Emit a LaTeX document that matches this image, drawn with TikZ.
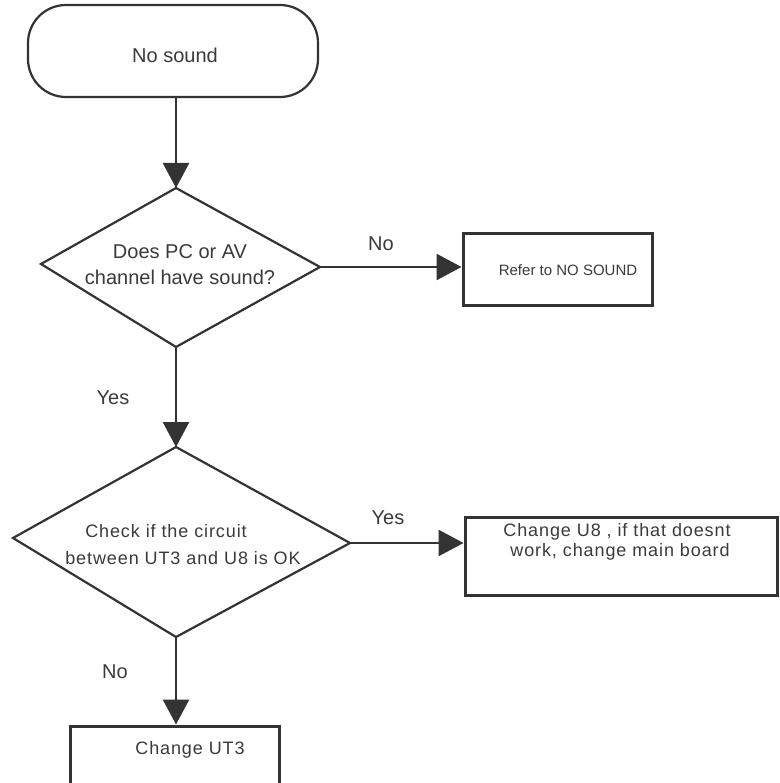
\documentclass[tikz,border=0pt]{standalone}
\usepackage{fontspec}
\setmainfont{Liberation Sans}
\newfontfamily\arialsp[LetterSpace=5]{Liberation Sans}
\usetikzlibrary{arrows.meta}
\definecolor{ink}{HTML}{333333}
\definecolor{txt}{HTML}{3A3A3A}
\tikzset{
  shapeline/.style={draw=ink, line width=2.2pt},
  boxnode/.style={draw=ink, line width=3pt, rectangle, inner sep=0pt},
  conn/.style={draw=ink, line width=2.6pt, -{Triangle[length=25pt,width=26pt]}},
  lbl/.style={text=txt, font=\fontsize{20}{24}\selectfont, inner sep=0pt},
  lbltwo/.style={text=txt, font=\fontsize{18}{22}\selectfont\arialsp, inner sep=0pt},
}
\begin{document}
\begin{tikzpicture}[x=1pt,y=-1pt]
\useasboundingbox (0,0) rectangle (779,783);
\clip (0,0) rectangle (779,783);

% start terminal
\node[shapeline, rounded corners=38pt, minimum width=290pt, minimum height=92pt, inner sep=0pt] (start) at (173,51) {};
\node[lbl] (starttxt) at (175,55) {No sound};

% diamond 1
\coordinate (d1t) at (176,188);
\coordinate (d1l) at (41,264);
\coordinate (d1r) at (320,267);
\coordinate (d1b) at (176,347);
\draw[shapeline, line join=miter] (d1t) -- (d1r) -- (d1b) -- (d1l) -- cycle;
\node[lbl] (d1a) at (180,252) {Does PC or AV};
\node[lbl] (d1c) at (180,277) {channel have sound?};

% box refer
\node[boxnode, minimum width=189pt, minimum height=71pt] (refer) at (557.5,269.5) {};
\node[lbl, font=\fontsize{15}{18}\selectfont] (refertxt) at (568,270) {Refer to NO SOUND};

% diamond 2
\coordinate (d2t) at (176,447);
\coordinate (d2l) at (13,538);
\coordinate (d2r) at (350,543);
\coordinate (d2b) at (176,637);
\draw[shapeline, line join=miter] (d2t) -- (d2r) -- (d2b) -- (d2l) -- cycle;
\node[lbltwo] (d2a) at (166,531) {Check if the circuit};
\node[lbltwo] (d2c) at (183,558) {between UT3 and U8 is OK};

% box change U8
\node[boxnode, minimum width=312pt, minimum height=78pt] (chu8) at (621,556) {};
\node[lbltwo] (chu8a) at (617,532) {Change U8 , if that doesnt};
\node[lbltwo] (chu8b) at (620,552) {work, change main board};

% box change UT3
\node[boxnode, minimum width=209pt, minimum height=80pt] (chut3) at (174.5,766) {};
\node[lbltwo] (chut3txt) at (190,750) {Change UT3};

% connectors
\draw[conn] (d1t |- start.south) -- (d1t);
\draw[conn] (d1r) -- (refer.west |- d1r);
\draw[conn] (d1b) -- (d2t);
\draw[conn] (d2r) -- (chu8.west |- d2r);
\draw[conn] (d2b) -- (d2b |- chut3.north);

% connector labels
\node[lbl] (lno1) at (381,244) {No};
\node[lbl] (lyes1) at (113,398) {Yes};
\node[lbl] (lyes2) at (388,518) {Yes};
\node[lbl] (lno2) at (115,672) {No};
\end{tikzpicture}
\end{document}
